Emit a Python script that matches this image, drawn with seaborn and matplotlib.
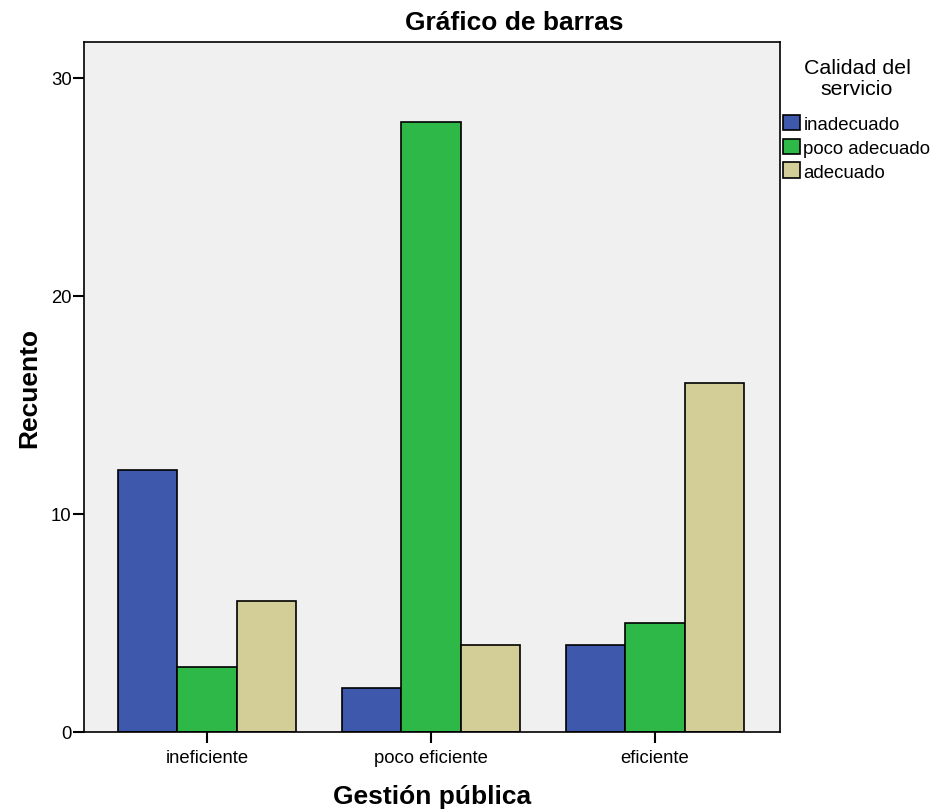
import matplotlib
matplotlib.use("Agg")
import matplotlib.pyplot as plt
import seaborn as sns
import pandas as pd

categories = ["ineficiente", "poco eficiente", "eficiente"]
series = ["inadecuado", "poco adecuado", "adecuado"]
inadecuado = [12, 2, 4]
poco_adecuado = [3, 28, 5]
adecuado = [6, 4, 16]
colors = ["#3e58ac", "#2eb848", "#d3ce97"]

rows = []
for s, vals in zip(series, [inadecuado, poco_adecuado, adecuado]):
    for c, v in zip(categories, vals):
        rows.append({"Gestión pública": c, "Calidad del servicio": s, "Recuento": v})
df = pd.DataFrame(rows)

sns.set_style("white")
plt.rcParams["font.family"] = ["Liberation Sans", "DejaVu Sans"]
plt.rcParams["text.color"] = "black"
plt.rcParams["axes.labelcolor"] = "black"
plt.rcParams["xtick.color"] = "black"
plt.rcParams["ytick.color"] = "black"

W, H = 935, 812
fig = plt.figure(figsize=(W / 100, H / 100), dpi=100)
ax = fig.add_axes([84 / W, 79 / H, (780 - 84) / W, (733 - 43) / H])
ax.set_facecolor("#f0f0f0")

sns.barplot(data=df, x="Gestión pública", y="Recuento", hue="Calidad del servicio",
            order=categories, hue_order=series, palette=colors, width=0.795,
            edgecolor="black", linewidth=1.2, saturation=1, ax=ax)

ax.set_ylim(0, 31.65)
ax.set_xlim(-0.549, 2.558)
ax.set_yticks([0, 10, 20, 30])
for sp in ax.spines.values():
    sp.set_visible(True)
    sp.set_color("black")
    sp.set_linewidth(1.2)
ax.tick_params(axis="both", direction="out", length=8, width=1.5, color="black",
               labelsize=13.3, left=True, bottom=True)
ax.tick_params(axis="y", pad=1)
ax.tick_params(axis="x", pad=4)
ax.set_xlabel("Gestión pública", fontsize=19, fontweight="bold", labelpad=13)
ax.set_ylabel("Recuento", fontsize=19, fontweight="bold", labelpad=7)
fig.text(514 / W, 1 - 23 / H, "Gráfico de barras", ha="center", va="center",
         fontsize=19, fontweight="bold")

leg = ax.legend(loc="upper left", bbox_to_anchor=(783 / W, 1 - 116 / H),
                bbox_transform=fig.transFigure, frameon=False, fontsize=13.4,
                handlelength=0.9, handleheight=0.9, handletextpad=0.2,
                borderaxespad=0.0, borderpad=0.0, labelspacing=0.3)
for h in leg.legend_handles:
    h.set_edgecolor("black")
    h.set_linewidth(1.2)
fig.text(857 / W, 1 - 79 / H, "Calidad del\nservicio", ha="center", va="center",
         fontsize=15.4, linespacing=1.15)

fig.savefig("out.png", dpi=100)
